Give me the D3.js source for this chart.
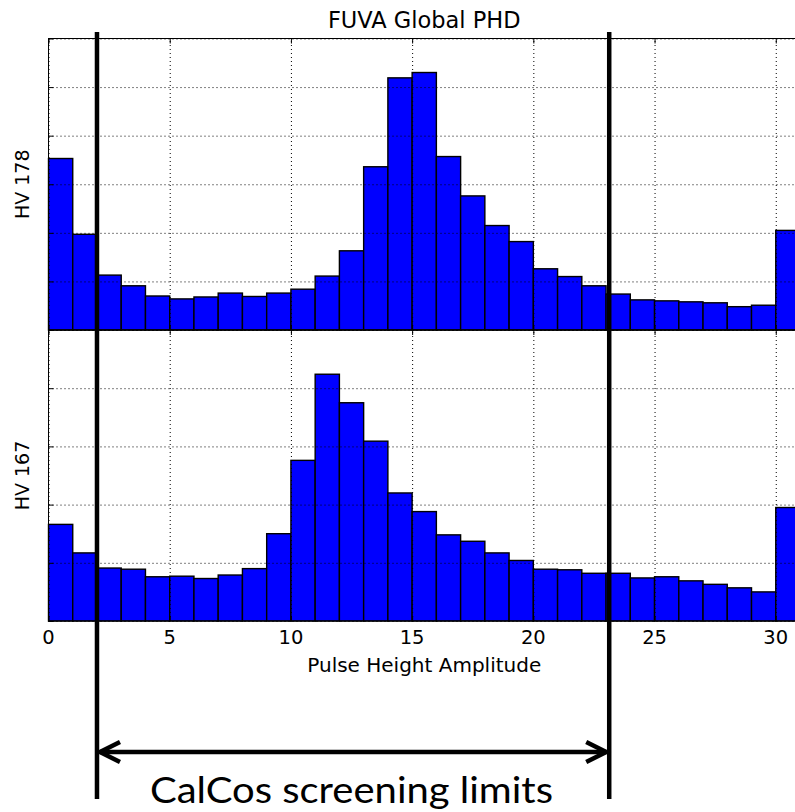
<!DOCTYPE html>
<html>
<head>
<meta charset="utf-8">
<script src="https://cdn.jsdelivr.net/npm/d3@7"></script>
<style>
  body { margin: 0; background: #fff; }
  svg { display: block; font-family: "DejaVu Sans", sans-serif; }
  .grid line { stroke: #000; stroke-width: 1; stroke-dasharray: 1,3; }
  .grid path { display: none; }
  .ticks path { display: none; }
  .ticks line { stroke: #000; stroke-width: 1; }
</style>
</head>
<body>
<div id="chart"></div>
<script>
// bin left edges of the pulse height histogram
var binStart = [0, 1, 2, 3, 4, 5, 6, 7, 8, 9, 10, 11, 12, 13, 14, 15,
                16, 17, 18, 19, 20, 21, 22, 23, 24, 25, 26, 27, 28, 29, 30];
// relative counts (arbitrary units)
var hv178 = [3.53, 1.97, 1.13, 0.91, 0.70, 0.64, 0.68, 0.76, 0.69, 0.76, 0.84, 1.11, 1.63, 3.36, 5.19, 5.30,
             3.57, 2.76, 2.15, 1.82, 1.26, 1.10, 0.91, 0.74, 0.62, 0.60, 0.58, 0.56, 0.48, 0.51, 2.05];
var hv167 = [1.66, 1.17, 0.91, 0.89, 0.76, 0.77, 0.73, 0.79, 0.90, 1.50, 2.76, 4.24, 3.75, 3.09, 2.20, 1.88,
             1.48, 1.37, 1.17, 1.04, 0.89, 0.88, 0.82, 0.82, 0.74, 0.76, 0.69, 0.63, 0.57, 0.50, 1.95];
var xTicks = [0, 5, 10, 15, 20, 25, 30];
var screeningLimits = [2, 23.13];

var width = 795,
    height = 812,
    left = 48.5,
    right = 800;

var x = d3.scaleLinear().domain([0, 31]).range([left, right]);

var svg = d3.select("#chart").append("svg")
    .attr("width", width)
    .attr("height", height);

svg.append("text")
    .attr("x", (left + right) / 2)
    .attr("y", 28)
    .attr("text-anchor", "middle")
    .style("font-size", "22.5px")
    .text("FUVA Global PHD");

function drawPanel(values, yMax, top, bottom, label, showX) {
    var y = d3.scaleLinear().domain([0, yMax]).range([bottom, top]);
    var g = svg.append("g");

    g.selectAll("rect.bar")
        .data(values)
        .enter().append("rect")
        .attr("class", "bar")
        .attr("x", function (d, i) { return x(binStart[i]); })
        .attr("width", function (d, i) { return x(binStart[i] + 1) - x(binStart[i]); })
        .attr("y", function (d) { return y(d); })
        .attr("height", function (d) { return y(0) - y(d); })
        .style("fill", "#0000ff")
        .style("stroke", "#000")
        .style("stroke-width", 1.4);

    // dotted grid sits on top of the bars
    g.append("g")
        .attr("class", "grid")
        .attr("transform", "translate(0," + bottom + ")")
        .call(d3.axisBottom(x).tickValues(xTicks).tickSize(-(bottom - top)).tickFormat(""));
    g.append("g")
        .attr("class", "grid")
        .attr("transform", "translate(" + left + ",0)")
        .call(d3.axisLeft(y).ticks(yMax).tickSize(-(right - left)).tickFormat(""));

    // inward ticks
    g.append("g")
        .attr("class", "ticks")
        .attr("transform", "translate(0," + bottom + ")")
        .call(d3.axisBottom(x).tickValues(xTicks).tickSize(-5).tickFormat(""));
    g.append("g")
        .attr("class", "ticks")
        .attr("transform", "translate(0," + top + ")")
        .call(d3.axisTop(x).tickValues(xTicks).tickSize(-5).tickFormat(""));
    g.append("g")
        .attr("class", "ticks")
        .attr("transform", "translate(" + left + ",0)")
        .call(d3.axisLeft(y).ticks(yMax).tickSize(-5).tickFormat(""));

    g.append("rect")
        .attr("x", left)
        .attr("y", top)
        .attr("width", right - left)
        .attr("height", bottom - top)
        .style("fill", "none")
        .style("stroke", "#000")
        .style("stroke-width", 1);

    g.append("text")
        .attr("transform", "translate(28.5," + (top + bottom) / 2 + ") rotate(-90)")
        .attr("text-anchor", "middle")
        .style("font-size", "19px")
        .text(label);

    if (showX) {
        g.selectAll("text.tick-label")
            .data(xTicks)
            .enter().append("text")
            .attr("class", "tick-label")
            .attr("x", function (d) { return x(d); })
            .attr("y", bottom + 23)
            .attr("text-anchor", "middle")
            .style("font-size", "19.5px")
            .text(function (d) { return d; });
        g.append("text")
            .attr("x", (left + right) / 2)
            .attr("y", bottom + 51)
            .attr("text-anchor", "middle")
            .style("font-size", "20px")
            .text("Pulse Height Amplitude");
    }
}

drawPanel(hv178, 6, 38.5, 330, "HV 178", false);
drawPanel(hv167, 5, 330, 621, "HV 167", true);

// CalCos screening limits overlay
var arrowY = 752;
var notes = svg.append("g")
    .style("stroke", "#000")
    .style("stroke-width", 4.5)
    .style("fill", "none");

notes.selectAll("line.limit")
    .data(screeningLimits)
    .enter().append("line")
    .attr("class", "limit")
    .attr("x1", function (d) { return x(d); })
    .attr("x2", function (d) { return x(d); })
    .attr("y1", 32)
    .attr("y2", 799);

var xa = x(screeningLimits[0]) + 3,
    xb = x(screeningLimits[1]) - 3;
notes.append("line")
    .attr("x1", xa).attr("x2", xb)
    .attr("y1", arrowY).attr("y2", arrowY);
notes.append("path")
    .attr("d", "M" + (xa + 20) + "," + (arrowY - 10) + "L" + xa + "," + arrowY + "L" + (xa + 20) + "," + (arrowY + 10));
notes.append("path")
    .attr("d", "M" + (xb - 20) + "," + (arrowY - 10) + "L" + xb + "," + arrowY + "L" + (xb - 20) + "," + (arrowY + 10));

svg.append("text")
    .attr("x", 150)
    .attr("y", 803)
    .attr("textLength", 403)
    .attr("lengthAdjust", "spacingAndGlyphs")
    .style("font-family", "Lato, sans-serif")
    .style("font-size", "37px")
    .text("CalCos screening limits");
</script>
</body>
</html>
